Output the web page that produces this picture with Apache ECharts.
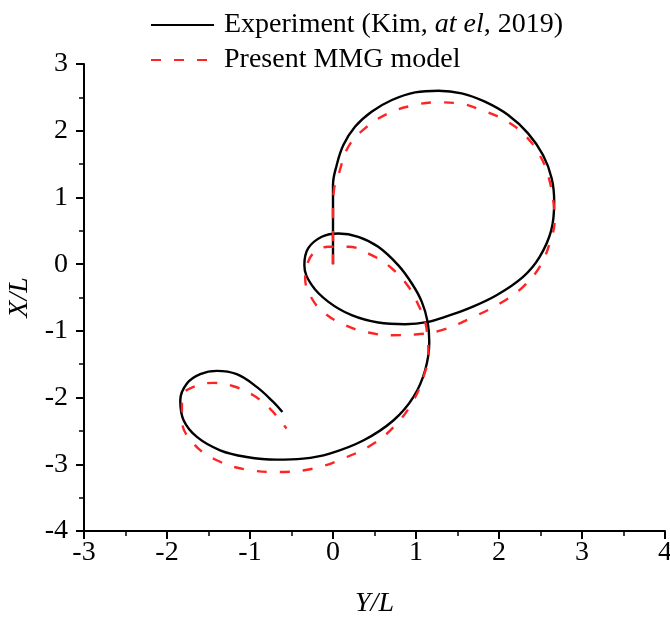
<!DOCTYPE html>
<html>
<head>
<meta charset="utf-8">
<script src="https://cdn.jsdelivr.net/npm/echarts@6/dist/echarts.min.js"></script>
<style>
  html, body { margin: 0; padding: 0; background: #fff; }
  #chart { width: 670px; height: 617px; }
</style>
</head>
<body>
<div id="chart"></div>
<script>
// Trajectory points as [Y/L, X/L]
const experimentPath = [
  [0.00, 0.00], [0.00, 0.46], [0.00, 0.74], [0.00, 1.185], [0.045, 1.485],
  [0.125, 1.785], [0.265, 2.06], [0.465, 2.285], [0.71, 2.46], [0.99, 2.575],
  [1.27, 2.60], [1.55, 2.56], [1.83, 2.435], [2.11, 2.235], [2.35, 1.96],
  [2.53, 1.635], [2.635, 1.285], [2.665, 0.935], [2.63, 0.51], [2.49, 0.11],
  [2.29, -0.19], [1.97, -0.465], [1.62, -0.67], [1.35, -0.79], [1.15, -0.865],
  [0.87, -0.90], [0.545, -0.875], [0.225, -0.765], [-0.055, -0.565], [-0.255, -0.315],
  [-0.345, -0.015], [-0.30, 0.235], [-0.135, 0.41], [0.065, 0.46], [0.305, 0.41],
  [0.545, 0.26], [0.785, -0.015], [0.95, -0.29], [1.07, -0.565], [1.14, -0.865],
  [1.16, -1.165], [1.11, -1.59], [0.97, -1.99], [0.73, -2.34], [0.37, -2.64],
  [-0.04, -2.84], [-0.36, -2.915], [-0.68, -2.93], [-1.04, -2.89], [-1.36, -2.79],
  [-1.64, -2.59], [-1.80, -2.34], [-1.84, -2.04], [-1.76, -1.79], [-1.60, -1.65],
  [-1.40, -1.60], [-1.16, -1.65], [-0.92, -1.84], [-0.72, -2.065], [-0.61, -2.215]
];

const mmgPath = [
  [0.00, 0.00], [0.00, 0.50], [0.00, 0.785], [0.01, 1.10], [0.065, 1.335],
  [0.185, 1.76], [0.385, 2.035], [0.665, 2.26], [0.95, 2.375], [1.23, 2.425],
  [1.51, 2.41], [1.79, 2.31], [2.07, 2.16], [2.31, 1.935], [2.49, 1.635],
  [2.59, 1.335], [2.65, 0.985], [2.67, 0.66], [2.61, 0.31], [2.49, -0.04],
  [2.29, -0.34], [2.01, -0.59], [1.65, -0.815], [1.31, -0.99], [0.99, -1.055],
  [0.71, -1.065], [0.425, -1.025], [0.145, -0.915], [-0.095, -0.74], [-0.255, -0.515],
  [-0.335, -0.215], [-0.30, 0.035], [-0.215, 0.185], [-0.055, 0.26], [0.185, 0.26],
  [0.465, 0.135], [0.71, -0.065], [0.91, -0.34], [1.03, -0.615], [1.11, -0.865],
  [1.14, -1.115], [1.15, -1.34], [1.09, -1.69], [0.97, -2.04], [0.77, -2.39],
  [0.49, -2.69], [0.12, -2.915], [-0.24, -3.065], [-0.64, -3.115], [-1.04, -3.08],
  [-1.40, -2.94], [-1.68, -2.69], [-1.82, -2.34], [-1.82, -1.99], [-1.68, -1.84],
  [-1.44, -1.78], [-1.20, -1.83], [-0.96, -1.965], [-0.76, -2.165], [-0.64, -2.34],
  [-0.56, -2.465]
];

const seriesNames = ['Experiment (Kim, at el, 2019)', 'Present MMG model'];
const xRange = [-3, 4];   // Y/L
const yRange = [-4, 3];   // X/L
const tickStep = 1;

const FONT = '"Liberation Serif", "Times New Roman", serif';
const FS = 28;

const axisCommon = {
  interval: tickStep,
  axisLine: { show: true, onZero: false, lineStyle: { color: '#000', width: 2 } },
  axisTick: { show: true, inside: false, length: 8, lineStyle: { color: '#000', width: 2 } },
  minorTick: { show: true, splitNumber: 2, length: 5, lineStyle: { color: '#000', width: 1.5 } },
  splitLine: { show: false },
  axisLabel: { color: '#000', fontFamily: FONT, fontSize: FS },
  nameLocation: 'middle',
  nameTextStyle: { color: '#000', fontFamily: FONT, fontSize: FS, fontStyle: 'italic' }
};

const chart = echarts.init(document.getElementById('chart'), null, { renderer: 'canvas' });

chart.setOption({
  backgroundColor: '#fff',
  animation: false,
  grid: { left: 84, right: 5, top: 64, bottom: 86, containLabel: false, outerBoundsMode: 'none' },
  legend: {
    orient: 'vertical',
    left: 150,
    top: 9,
    padding: 0,
    itemWidth: 63,
    itemHeight: 14,
    itemGap: 3,
    itemStyle: { opacity: 0 },
    data: seriesNames,
    textStyle: {
      color: '#000', fontFamily: FONT, fontSize: FS, lineHeight: 32,
      rich: {
        g: { width: 5 },
        n: { color: '#000', fontFamily: FONT, fontSize: FS, lineHeight: 32 },
        i: { color: '#000', fontFamily: FONT, fontSize: FS, lineHeight: 32, fontStyle: 'italic' }
      }
    },
    formatter: function (name) {
      if (name === seriesNames[0]) {
        return '{g|}{n|Experiment (Kim, }{i|at el}{n|, 2019)}';
      }
      return '{g|}{n|' + name + '}';
    }
  },
  xAxis: Object.assign({}, axisCommon, {
    type: 'value',
    min: xRange[0],
    max: xRange[1],
    name: 'Y/L',
    nameGap: 59,
    axisLabel: Object.assign({}, axisCommon.axisLabel, { margin: 8 })
  }),
  yAxis: Object.assign({}, axisCommon, {
    type: 'value',
    min: yRange[0],
    max: yRange[1],
    name: 'X/L',
    nameGap: 47,
    axisLabel: Object.assign({}, axisCommon.axisLabel, { margin: 16 })
  }),
  series: [
    {
      name: seriesNames[0],
      type: 'line',
      data: experimentPath,
      smooth: 0.4,
      symbol: 'none',
      clip: false,
      lineStyle: { color: '#000', width: 2.4, type: 'solid' },
      itemStyle: { color: '#000' }
    },
    {
      name: seriesNames[1],
      type: 'line',
      data: mmgPath,
      smooth: 0.4,
      symbol: 'none',
      clip: false,
      lineStyle: { color: '#ff2424', width: 2.4, type: [10, 13] },
      itemStyle: { color: '#ff2424' }
    }
  ]
});
</script>
</body>
</html>
